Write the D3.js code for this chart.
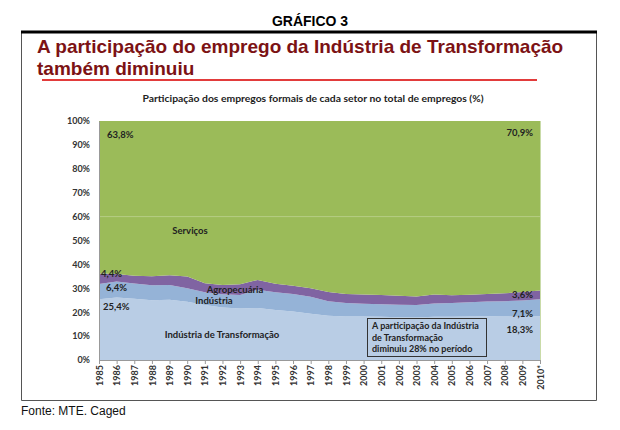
<!DOCTYPE html>
<html>
<head>
<meta charset="utf-8">
<script src="https://cdn.jsdelivr.net/npm/d3@7"></script>
<style>
  body { margin: 0; background: #fff; }
  svg text { font-family: Lato, "Open Sans", sans-serif; }
  svg text.arial { font-family: "Liberation Sans", Arial, sans-serif; }
</style>
</head>
<body>
<div id="chart"></div>
<script>
// Data (% of formal jobs by sector)
var years = ["1985","1986","1987","1988","1989","1990","1991","1992","1993","1994","1995","1996","1997",
  "1998","1999","2000","2001","2002","2003","2004","2005","2006","2007","2008","2009","2010*"];
var indTransf = [25.4, 26.2, 25.6, 25.0, 25.2, 24.4, 23.0, 22.0, 21.6, 21.8, 20.9, 20.3, 19.4,
  18.5, 18.2, 18.2, 18.1, 17.9, 17.8, 18.1, 18.1, 18.2, 18.3, 18.2, 18.1, 18.3];
var industria = [6.4, 6.6, 6.4, 6.3, 6.2, 5.6, 5.3, 5.5, 5.6, 7.6, 7.4, 7.3, 7.1,
  6.1, 5.6, 5.3, 5.2, 5.2, 5.2, 5.5, 5.7, 6.0, 6.2, 6.4, 6.8, 7.1];
var agro = [4.4, 3.2, 3.2, 3.7, 4.1, 4.9, 3.8, 3.9, 4.5, 4.1, 3.6, 3.5, 3.5,
  3.9, 3.8, 3.9, 3.9, 3.8, 3.6, 3.8, 3.3, 3.1, 3.1, 3.3, 3.5, 3.6];
var servicos = [63.8, 64.0, 64.8, 65.0, 64.5, 65.1, 67.9, 68.6, 68.3, 66.5, 68.1, 68.9, 70.0,
  71.5, 72.4, 72.6, 72.8, 73.1, 73.4, 72.6, 72.9, 72.7, 72.4, 72.1, 71.6, 70.9];
var yTicks = [0, 10, 20, 30, 40, 50, 60, 70, 80, 90, 100];

var svgWidth = 620, svgHeight = 430;
var margin = { top: 121, right: 80, bottom: 70, left: 99 };
var width = 540 - margin.left;
var height = 360 - margin.top;

var svg = d3.select("#chart").append("svg")
  .attr("width", svgWidth)
  .attr("height", svgHeight);

// frame
svg.append("text").attr("class", "arial").attr("x", 310).attr("y", 26).attr("text-anchor", "middle")
  .style("font-weight", "bold").style("font-size", "14px").text("GRÁFICO 3");
svg.append("path")
  .attr("d", "M21.5,31 V400.5 H596.5 V31")
  .attr("fill", "none").attr("stroke", "#555").attr("stroke-width", 1);
svg.append("line").attr("x1", 21).attr("x2", 597).attr("y1", 32).attr("y2", 32)
  .attr("stroke", "#000").attr("stroke-width", 3);

svg.append("text").attr("class", "arial").attr("x", 21).attr("y", 415)
  .style("font-size", "12px").attr("fill", "#111").text("Fonte: MTE. Caged");

// title
["A participação do emprego da Indústria de Transformação", "também diminuiu"].forEach(function(t, i) {
  svg.append("text").attr("class", "arial").attr("x", 37).attr("y", 53 + i * 22)
    .style("font-weight", "bold").style("font-size", "19px").attr("fill", "#7c1214")
    .text(t);
});
svg.append("line").attr("x1", 42).attr("x2", 537).attr("y1", 80).attr("y2", 80)
  .attr("stroke", "#e23b3b").attr("stroke-width", 2);

svg.append("text").attr("x", 313).attr("y", 102).attr("text-anchor", "middle")
  .attr("textLength", 341).attr("lengthAdjust", "spacingAndGlyphs")
  .style("font-size", "9.5px").style("font-weight", "bold").attr("fill", "#222")
  .text("Participação dos empregos formais de cada setor no total de empregos (%)");

var chartGroup = svg.append("g")
  .attr("transform", `translate(${margin.left}, ${margin.top})`);

var table = years.map(function(y, i) {
  return { year: y, indTransf: indTransf[i], industria: industria[i], agro: agro[i], servicos: servicos[i] };
});
var keys = ["indTransf", "industria", "agro", "servicos"];
var colors = { indTransf: "#b9cde5", industria: "#95b3d7", agro: "#8064a2", servicos: "#9bbb59" };

var stack = d3.stack().keys(keys).offset(d3.stackOffsetExpand);
var series = stack(table);

var xScale = d3.scalePoint().domain(years).range([0, width]);
var yScale = d3.scaleLinear().domain([0, 1]).range([height, 0]);

var area = d3.area()
  .x(d => xScale(d.data.year))
  .y0(d => yScale(d[0]))
  .y1(d => yScale(d[1]));

chartGroup.selectAll("path.layer")
  .data(series)
  .enter()
  .append("path")
  .attr("class", "layer")
  .attr("fill", d => colors[d.key])
  .attr("d", area);

// faint gridline visible at 60%
chartGroup.append("line")
  .attr("x1", 0).attr("x2", width)
  .attr("y1", yScale(0.6)).attr("y2", yScale(0.6))
  .attr("stroke", "#b5cd85").attr("stroke-width", 1);
chartGroup.append("line")
  .attr("x1", width + 0.5).attr("x2", width + 0.5)
  .attr("y1", 0).attr("y2", height)
  .attr("stroke", "#c9dba8").attr("stroke-width", 1);

// axes
var bottomAxis = d3.axisBottom(xScale).tickSize(4).tickPadding(3);
var leftAxis = d3.axisLeft(yScale).tickValues(yTicks.map(v => v / 100))
  .tickFormat(v => Math.round(v * 100) + "%").tickSize(0).tickPadding(9);

var xg = chartGroup.append("g")
  .attr("transform", `translate(0, ${height})`)
  .call(bottomAxis);
xg.select(".domain").attr("stroke", "#999");
xg.selectAll(".tick line").attr("stroke", "#999");
xg.selectAll("text")
  .attr("transform", "rotate(-90)")
  .attr("x", -5).attr("y", 0).attr("dy", "0.35em")
  .attr("text-anchor", "end")
  .style("font-size", "9px").style("font-weight", "bold").attr("fill", "#333");

var yg = chartGroup.append("g").call(leftAxis);
yg.select(".domain").attr("stroke", "#999");
yg.selectAll("text")
  .style("font-size", "9px").style("font-weight", "bold").attr("fill", "#333");

// labels
function label(x, y, txt, anchor) {
  svg.append("text").attr("x", x).attr("y", y)
    .attr("text-anchor", anchor || "start")
    .style("font-size", "9.5px").style("font-weight", "bold").attr("fill", "#222")
    .text(txt);
}
label(107, 138, "63,8%");
label(533, 136, "70,9%", "end");
label(190, 234, "Serviços", "middle");
label(101, 277, "4,4%");
label(106, 291, "6,4%");
label(103, 310, "25,4%");
label(235, 293, "Agropecuária", "middle");
label(214, 304, "Indústria", "middle");
label(222, 338, "Indústria de Transformação", "middle");
label(533, 298, "3,6%", "end");
label(533, 317, "7,1%", "end");
label(533, 333, "18,3%", "end");

// note box
svg.append("rect").attr("x", 367.5).attr("y", 318.5).attr("width", 119).attr("height", 38)
  .attr("fill", "none").attr("stroke", "#333").attr("stroke-width", 1);
var note = ["A participação da Indústria", "de Transformação", "diminuiu 28% no período"];
note.forEach(function(t, i) {
  svg.append("text").attr("x", 372).attr("y", 329 + i * 11.5)
    .style("font-size", "9px").style("font-weight", "bold").attr("fill", "#222").text(t);
});
</script>
</body>
</html>
